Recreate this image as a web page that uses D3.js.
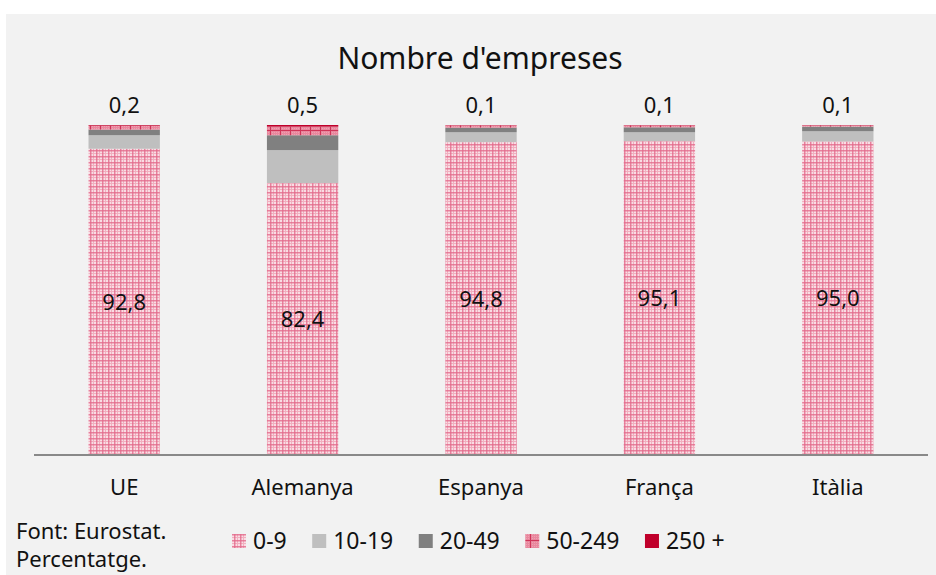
<!DOCTYPE html>
<html lang="ca">
<head>
<meta charset="UTF-8">
<title>Nombre d'empreses</title>
<script src="https://d3js.org/d3.v7.min.js"></script>
<style>
  body { margin: 0; background: #fff; }
  svg { display: block; font-family: "Noto Sans", "Open Sans", sans-serif; }
</style>
</head>
<body>
<div id="chart"></div>
<script>
// data (percentatge d'empreses per tram d'ocupats)
const countries = ["UE", "Alemanya", "Espanya", "França", "Itàlia"];
const sizeClasses = ["0-9", "10-19", "20-49", "50-249", "250 +"];
const micro = [92.8, 82.4, 94.8, 95.1, 95.0];
const small1019 = [4.1, 10.0, 3.0, 2.7, 3.1];
const small2049 = [1.7, 4.5, 1.4, 1.5, 1.4];
const medium = [1.2, 2.6, 0.7, 0.6, 0.4];
const large = [0.2, 0.5, 0.1, 0.1, 0.1];
const series = [micro, small1019, small2049, medium, large];

const width = 936, height = 575;
const fmt = v => v.toFixed(1).replace(".", ",");

const svg = d3.select("#chart").append("svg")
  .attr("width", width).attr("height", height);

// fills
const defs = svg.append("defs");
const p1 = defs.append("pattern").attr("id", "pat09")
  .attr("patternUnits", "userSpaceOnUse").attr("width", 6).attr("height", 6);
p1.append("rect").attr("width", 6).attr("height", 6).attr("fill", "#f9dde4");
p1.append("rect").attr("x", 3).attr("width", 1).attr("height", 6).attr("fill", "#f1afbf");
p1.append("rect").attr("y", 3).attr("width", 6).attr("height", 1).attr("fill", "#f1afbf");
p1.append("rect").attr("x", 0).attr("width", 1.5).attr("height", 6).attr("fill", "#e26a8b").attr("opacity", 0.8);
p1.append("rect").attr("y", 0).attr("width", 6).attr("height", 1.5).attr("fill", "#e26a8b").attr("opacity", 0.8);

const p2 = defs.append("pattern").attr("id", "pat50")
  .attr("patternUnits", "userSpaceOnUse").attr("width", 10).attr("height", 10);
p2.append("rect").attr("width", 10).attr("height", 10).attr("fill", "#e8879d");
d3.range(0, 10, 2).forEach(i => d3.range(0, 10, 2).forEach(j => {
  p2.append("rect").attr("x", i).attr("y", j).attr("width", 1).attr("height", 1).attr("fill", "#ef9fb1");
}));
p2.append("rect").attr("x", 0).attr("width", 1).attr("height", 10).attr("fill", "#cf3358");
p2.append("rect").attr("y", 0).attr("width", 10).attr("height", 1).attr("fill", "#cf3358");

const fills = ["url(#pat09)", "#bfbfbf", "#808080", "url(#pat50)", "#c0002b"];

// background panel
svg.append("rect").attr("x", 6).attr("y", 14).attr("width", width - 6).attr("height", height - 14)
  .attr("fill", "#f2f2f2");

const x = d3.scaleBand().domain(countries).range([35, 927]).paddingInner(0.6).paddingOuter(0.3);
const y = d3.scaleLinear().domain([0, 100]).range([455, 125]);

const rows = countries.map((c, i) => {
  const r = { country: c };
  sizeClasses.forEach((k, j) => r[k] = series[j][i]);
  return r;
});
const stacked = d3.stack().keys(sizeClasses)(rows);

svg.append("g").selectAll("g")
  .data(stacked).join("g")
  .attr("fill", (d, i) => fills[i])
  .selectAll("rect")
  .data(d => d).join("rect")
  .attr("x", d => x(d.data.country))
  .attr("width", x.bandwidth())
  .attr("y", d => y(d[1]))
  .attr("height", d => y(d[0]) - y(d[1]));

// axis line
const axis = svg.append("g").attr("transform", `translate(0,${y(0)})`)
  .call(d3.axisBottom(x).tickSize(0).tickPadding(24));
axis.select(".domain").attr("stroke", "#898989").attr("stroke-width", 2)
  .attr("d", "M34,0H928");
axis.selectAll("text").attr("font-size", 22).attr("fill", "#111")
  .attr("font-family", "Noto Sans, sans-serif");

// value labels
svg.append("g").selectAll("text").data(countries).join("text")
  .attr("x", d => x(d) + x.bandwidth() / 2)
  .attr("y", (d, i) => y((micro[i]) / 2) + 8)
  .attr("text-anchor", "middle").attr("font-size", 22).attr("fill", "#111")
  .text((d, i) => fmt(micro[i]));

svg.append("g").selectAll("text").data(countries).join("text")
  .attr("x", d => x(d) + x.bandwidth() / 2)
  .attr("y", y(100) - 12)
  .attr("text-anchor", "middle").attr("font-size", 22).attr("fill", "#111")
  .text((d, i) => fmt(large[i]));

// title
svg.append("text").attr("x", 480).attr("y", 69).attr("text-anchor", "middle")
  .attr("font-size", 30).attr("fill", "#111").text("Nombre d'empreses");

// source
svg.append("text").attr("x", 16).attr("y", 539).attr("font-size", 22).attr("fill", "#111")
  .text("Font: Eurostat.");
svg.append("text").attr("x", 16).attr("y", 567).attr("font-size", 22).attr("fill", "#111")
  .text("Percentatge.");

// legend
const legend = svg.append("g");
let lx = 232;
sizeClasses.forEach((k, i) => {
  legend.append("rect").attr("x", lx).attr("y", 534).attr("width", 14).attr("height", 14)
    .attr("fill", fills[i]);
  const t = legend.append("text").attr("x", lx + 21).attr("y", 549)
    .attr("font-size", 23).attr("fill", "#111").text(k);
  lx += 21 + t.node().getComputedTextLength() + 25.5;
});
</script>
</body>
</html>
